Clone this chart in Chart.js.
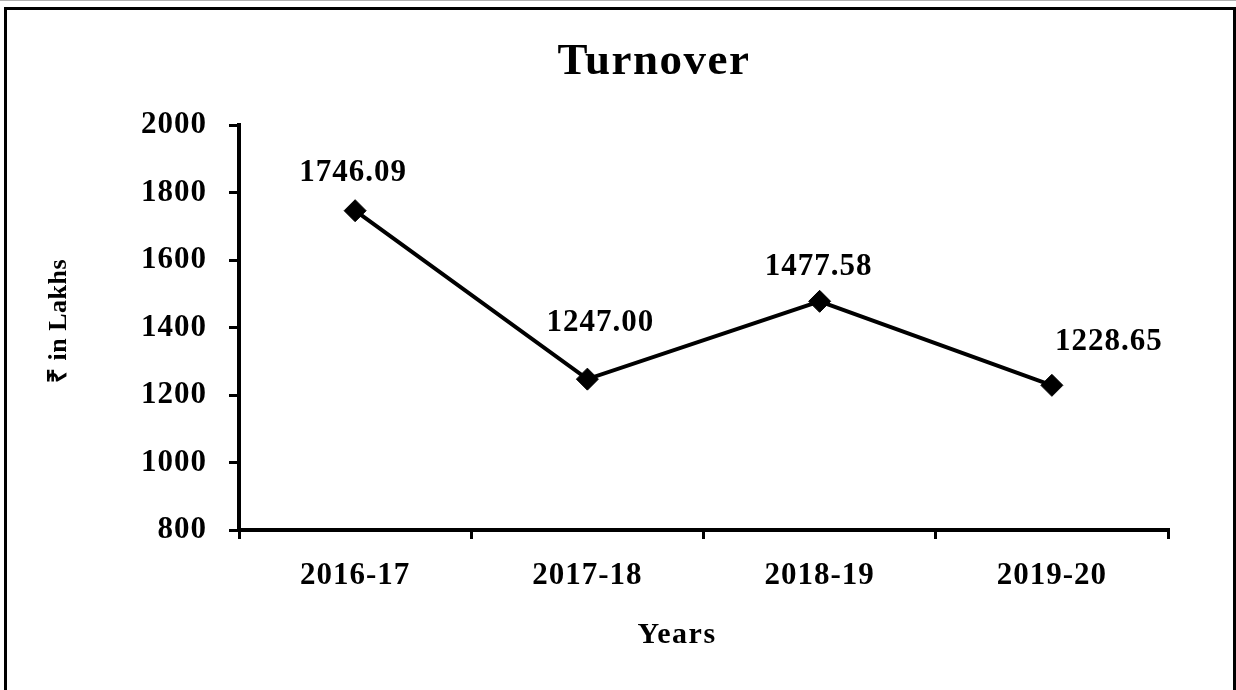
<!DOCTYPE html>
<html lang="en">
  <head>
    <meta charset="UTF-8" />
    <title>Turnover</title>
    <style>
      body {
        margin: 0;
        background: #fff;
      }
    </style>
  </head>
  <body>
    <canvas id="myChart" width="1236" height="690"></canvas>

    <script src="https://cdn.jsdelivr.net/npm/chart.js"></script>
    <script>
      const years = ["2016-17", "2017-18", "2018-19", "2019-20"];
      const turnover = [1746.09, 1247.0, 1477.58, 1228.65];
      const yTicks = [800, 1000, 1200, 1400, 1600, 1800, 2000];

      const serif = "'Liberation Serif', 'Times New Roman', serif";

      // value labels sit above each point, nudged like in the original
      const labelShift = [
        [-2, -38],
        [13, -56],
        [-1, -34],
        [57, -43],
      ];

      const frame = {
        id: "frame",
        beforeDraw(chart) {
          const c = chart.ctx;
          c.save();
          c.fillStyle = "#fff";
          c.fillRect(0, 0, chart.width, chart.height);
          c.fillStyle = "#b0b0b0";
          c.fillRect(0, 0, chart.width, 1);
          c.fillStyle = "#000";
          c.fillRect(4, 7, chart.width - 4, 3);
          c.fillRect(4, 7, 3, chart.height - 7);
          c.fillRect(chart.width - 3, 7, 3, chart.height - 7);
          c.restore();
          // the original text is set a little wide
          c.letterSpacing = "1px";
        },
      };

      const texts = {
        id: "texts",
        afterDatasetsDraw(chart) {
          const c = chart.ctx;
          const pts = chart.getDatasetMeta(0).data;
          c.save();
          c.fillStyle = "#000";
          c.textAlign = "center";
          c.textBaseline = "middle";
          c.letterSpacing = "1px";
          c.font = "bold 31px " + serif;
          pts.forEach((p, i) => {
            c.fillText(
              turnover[i].toFixed(2),
              p.x + labelShift[i][0],
              p.y + labelShift[i][1]
            );
          });

          c.textBaseline = "alphabetic";
          c.letterSpacing = "1.5px";
          c.font = "bold 45px " + serif;
          c.fillText("Turnover", 654, 74);
          c.font = "bold 30px " + serif;
          c.fillText("Years", 677, 643);

          c.translate(66, 321);
          c.rotate(-Math.PI / 2);
          c.letterSpacing = "0.5px";
          c.font = "bold 26px " + serif;
          c.fillText("₹ in Lakhs", 0, 0);
          c.restore();
        },
      };

      const ctx = document.getElementById("myChart").getContext("2d");
      const myChart = new Chart(ctx, {
        type: "line",
        data: {
          labels: years,
          datasets: [
            {
              data: turnover,
              borderColor: "#000",
              borderWidth: 4,
              backgroundColor: "#000",
              pointStyle: "rectRot",
              pointRadius: 11,
              pointBorderWidth: 1,
              tension: 0,
            },
          ],
        },
        options: {
          responsive: false,
          devicePixelRatio: 1,
          animation: false,
          layout: {
            padding: { top: 125, right: 68, left: 0, bottom: 0 },
          },
          plugins: {
            legend: { display: false },
            title: { display: false },
            tooltip: { enabled: false },
          },
          scales: {
            x: {
              offset: true,
              afterFit: (scale) => {
                scale.height = 160;
              },
              grid: {
                display: true,
                offset: true,
                drawOnChartArea: false,
                drawTicks: true,
                tickLength: 9,
                color: "#000",
                lineWidth: 3,
              },
              border: { display: true, color: "#000", width: 4 },
              ticks: {
                color: "#000",
                padding: 18,
                font: { family: serif, size: 31, weight: "bold" },
              },
            },
            y: {
              min: yTicks[0],
              max: yTicks[yTicks.length - 1],
              afterFit: (scale) => {
                scale.width = 239;
              },
              afterBuildTicks: (scale) => {
                scale.ticks = yTicks.map((v) => ({ value: v }));
              },
              grid: {
                display: true,
                drawOnChartArea: false,
                drawTicks: true,
                tickLength: 10,
                color: "#000",
                lineWidth: 3,
              },
              border: { display: true, color: "#000", width: 4 },
              ticks: {
                color: "#000",
                padding: 22,
                callback: (v) => String(v),
                font: { family: serif, size: 31, weight: "bold" },
              },
            },
          },
        },
        plugins: [frame, texts],
      });
    </script>
  </body>
</html>
